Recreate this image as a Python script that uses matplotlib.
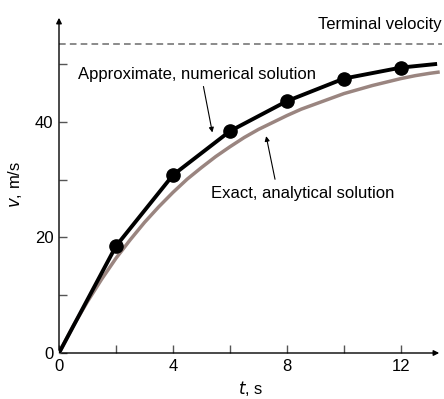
import matplotlib.pyplot as plt

# numerical (Euler) solution
t_num = [0, 2, 4, 6, 8, 10, 12, 13.2]
v_num = [0, 18.5, 30.8, 38.4, 43.6, 47.5, 49.4, 50.0]
t_dots = [2, 4, 6, 8, 10, 12]
v_dots = [18.5, 30.8, 38.4, 43.6, 47.5, 49.4]

# exact solution
t_exact = [0, 0.5, 1, 1.5, 2, 2.5, 3, 3.5, 4, 4.5, 5, 5.5, 6, 6.5, 7, 7.5, 8,
           8.5, 9, 9.5, 10, 10.5, 11, 11.5, 12, 12.5, 13, 13.3]
v_exact = [0, 4.7, 8.9, 12.8, 16.4, 19.6, 22.6, 25.3, 27.8, 30.1, 32.1, 34.0,
           35.7, 37.3, 38.7, 39.9, 41.1, 42.2, 43.1, 44.0, 44.9, 45.6, 46.3,
           46.9, 47.5, 48.0, 48.4, 48.6]

v_terminal = 53.4

plt.rcParams['font.family'] = ['Liberation Sans', 'DejaVu Sans']

fig = plt.figure(figsize=(4.44, 3.99), dpi=100)
ax = fig.add_axes([59/444, 1-353/399, 383/444, 338/399])
ax.set_xlim(0, 13.44)
ax.set_ylim(0, 58.5)

for s in ax.spines.values():
    s.set_visible(False)

# axes with arrow heads
ax.annotate('', xy=(1, 0), xytext=(0, 0), xycoords='axes fraction',
            arrowprops=dict(arrowstyle='-|>', color='black', lw=1, mutation_scale=8))
ax.annotate('', xy=(0, 1), xytext=(0, 0), xycoords='axes fraction',
            arrowprops=dict(arrowstyle='-|>', color='black', lw=1, mutation_scale=8))

ax.set_xticks([0, 4, 8, 12])
ax.set_xticks([2, 6, 10], minor=True)
ax.set_yticks([0, 20, 40])
ax.set_yticks([10, 30, 50], minor=True)
ax.tick_params(which='both', direction='in', length=6, width=1, color='#555555',
               labelsize=12, pad=4)

ax.axhline(v_terminal, color='#777777', lw=1.2, ls=(0, (4, 2.5)))

ax.plot(t_exact, v_exact, color='#9a8580', lw=2.5, zorder=2)
ax.plot(t_num, v_num, color='black', lw=2.8, zorder=3)
ax.plot(t_dots, v_dots, 'o', color='black', ms=9.5, zorder=4)

ax.text(13.44, 55.5, 'Terminal velocity', ha='right', va='bottom', fontsize=12)
ax.text(0.65, 48.2, 'Approximate, numerical solution', ha='left', va='center', fontsize=12)
ax.annotate('', xy=(5.4, 37.7), xytext=(5.05, 46.6),
            arrowprops=dict(arrowstyle='-|>', color='black', lw=0.8, mutation_scale=7))
ax.text(5.35, 27.6, 'Exact, analytical solution', ha='left', va='center', fontsize=12)
ax.annotate('', xy=(7.25, 38.0), xytext=(7.6, 29.6),
            arrowprops=dict(arrowstyle='-|>', color='black', lw=0.8, mutation_scale=7))

ax.set_xlabel('$\\it{t}$, s', fontsize=12, labelpad=4)
ax.set_ylabel('$\\it{v}$, m/s', fontsize=12, labelpad=8)

fig.savefig('out.png', dpi=100)
